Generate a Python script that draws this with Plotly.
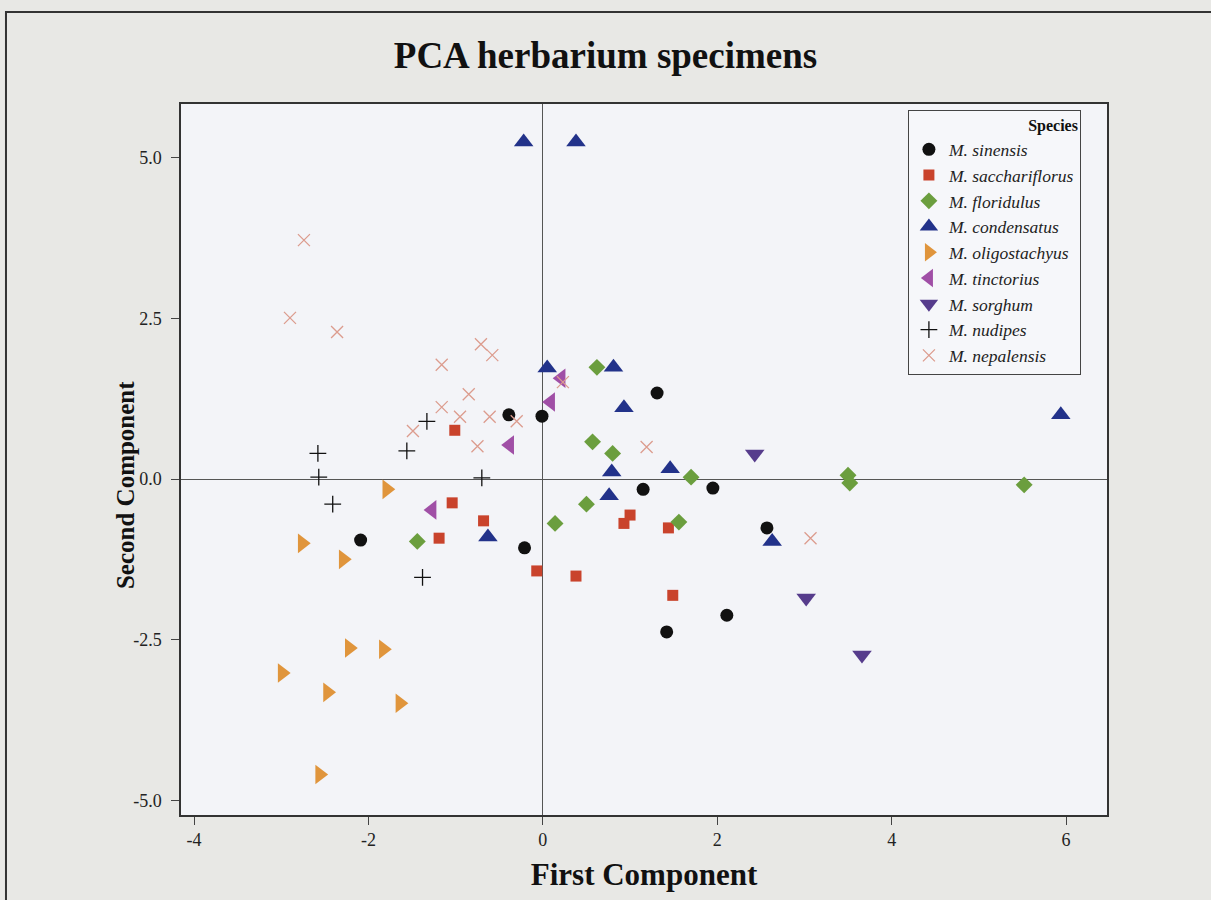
import plotly.graph_objects as go

# ---- data ----
species = ["M. sinensis", "M. sacchariflorus", "M. floridulus", "M. condensatus",
           "M. oligostachyus", "M. tinctorius", "M. sorghum", "M. nudipes", "M. nepalensis"]

sinensis_x = [-0.39, -0.01, 1.31, 1.15, 1.95, 2.57, -0.21, -2.09, 2.11, 1.42]
sinensis_y = [1.00, 0.98, 1.34, -0.16, -0.14, -0.76, -1.07, -0.95, -2.12, -2.38]

sacchariflorus_x = [-1.01, -1.04, -0.68, -1.19, -0.07, 0.38, 1.00, 0.93, 1.44, 1.49]
sacchariflorus_y = [0.76, -0.37, -0.65, -0.92, -1.43, -1.51, -0.56, -0.69, -0.76, -1.81]

floridulus_x = [0.62, 0.57, 0.80, 1.70, 0.50, 0.14, 1.56, 3.50, 3.52, 5.52, -1.44]
floridulus_y = [1.74, 0.58, 0.40, 0.03, -0.39, -0.69, -0.67, 0.06, -0.06, -0.09, -0.97]

condensatus_x = [-0.22, 0.38, 0.05, 0.81, 0.93, 0.79, 1.46, 0.76, -0.63, 2.63, 5.94]
condensatus_y = [5.25, 5.25, 1.73, 1.74, 1.11, 0.11, 0.16, -0.26, -0.90, -0.97, 1.00]

oligostachyus_x = [-1.79, -2.76, -2.29, -2.22, -1.83, -2.99, -2.47, -1.64, -2.56]
oligostachyus_y = [-0.16, -1.00, -1.25, -2.63, -2.65, -3.02, -3.32, -3.49, -4.60]

tinctorius_x = [0.21, 0.09, -0.38, -1.27]
tinctorius_y = [1.57, 1.20, 0.53, -0.48]

sorghum_x = [2.43, 3.02, 3.66]
sorghum_y = [0.39, -1.85, -2.74]

nudipes_x = [-1.33, -2.58, -1.56, -2.57, -0.70, -2.41, -1.38]
nudipes_y = [0.90, 0.40, 0.44, 0.03, 0.02, -0.39, -1.53]

nepalensis_x = [-2.74, -2.90, -2.36, -0.71, -0.58, -1.16, -0.85, -1.16, -0.95, -0.61,
                -0.30, -1.49, -0.75, 0.23, 1.19, 3.07]
nepalensis_y = [3.72, 2.51, 2.29, 2.10, 1.93, 1.78, 1.32, 1.12, 0.97, 0.97,
                0.90, 0.75, 0.51, 1.51, 0.50, -0.92]

x_tickvals = [-4, -2, 0, 2, 4, 6]
x_ticktext = ["-4", "-2", "0", "2", "4", "6"]
y_tickvals = [-5.0, -2.5, 0.0, 2.5, 5.0]
y_ticktext = ["-5.0", "-2.5", "0.0", "2.5", "5.0"]

# ---- styles ----
series = [
    (sinensis_x, sinensis_y, dict(symbol="circle", size=13, color="#111111")),
    (sacchariflorus_x, sacchariflorus_y, dict(symbol="square", size=11, color="#c9432c")),
    (floridulus_x, floridulus_y, dict(symbol="diamond", size=13, color="#6b9e3e")),
    (condensatus_x, condensatus_y, dict(symbol="triangle-up", size=17, color="#22328a")),
    (oligostachyus_x, oligostachyus_y, dict(symbol="triangle-right", size=17, color="#e0953c")),
    (tinctorius_x, tinctorius_y, dict(symbol="triangle-left", size=17, color="#a04fa6")),
    (sorghum_x, sorghum_y, dict(symbol="triangle-down", size=17, color="#563c8c")),
    (nudipes_x, nudipes_y, dict(symbol="cross-thin", size=12, color="#111111",
                                line=dict(color="#111111", width=1.3))),
    (nepalensis_x, nepalensis_y, dict(symbol="x-thin", size=12, color="#dc9c8e",
                                      line=dict(color="#dc9c8e", width=1.3))),
]

fig = go.Figure()
for name, (xs, ys, mk) in zip(species, series):
    fig.add_trace(go.Scatter(x=xs, y=ys, mode="markers", name=name, marker=mk))

serif = "Liberation Serif, Times New Roman, serif"

fig.update_layout(
    width=1211, height=900,
    margin=dict(l=181, r=104, t=104, b=85),
    paper_bgcolor="#e8e8e5",
    plot_bgcolor="#f3f4f8",
    font=dict(family=serif, color="#1a1a1a"),
    title=dict(text="<b>PCA herbarium specimens</b>", x=0.5, xanchor="center",
               y=1 - 55 / 900, yanchor="middle",
               font=dict(family=serif, size=37, color="#111111")),
    showlegend=True,
    legend=dict(
        x=0.785, y=0.992, xanchor="left", yanchor="top",
        bgcolor="#f6f7fa", bordercolor="#444444", borderwidth=1,
        font=dict(family=serif, size=17.5, style="italic", color="#222222"),
        title=dict(text="<b>Species</b>", side="top right",
                   font=dict(family=serif, size=16, style="normal", color="#111111")),
    ),
    shapes=[dict(type="rect", xref="paper", yref="paper",
                 x0=-0.189, x1=1.2, y0=-0.3, y1=1.1294,
                 line=dict(color="#333333", width=2), fillcolor="rgba(0,0,0,0)",
                 layer="below")],
    annotations=[dict(text="<b>Second Component</b>", xref="paper", yref="paper",
                      x=-0.0605, y=0.464, xanchor="center", yanchor="middle",
                      textangle=-90, showarrow=False,
                      font=dict(family=serif, size=25, color="#111111"))],
)

fig.update_xaxes(
    range=[-4.15, 6.47], tickvals=x_tickvals, ticktext=x_ticktext,
    showgrid=False, zeroline=True, zerolinecolor="#555555", zerolinewidth=1,
    showline=True, mirror=True, linecolor="#333333", linewidth=1.5,
    ticks="outside", ticklen=8, tickcolor="#444444",
    tickfont=dict(family=serif, size=18, color="#222222"),
    title=dict(text="<b>First Component</b>", standoff=14,
               font=dict(family=serif, size=31, color="#111111")),
)
fig.update_yaxes(
    range=[-5.23, 5.84], tickvals=y_tickvals, ticktext=y_ticktext,
    showgrid=False, zeroline=True, zerolinecolor="#555555", zerolinewidth=1,
    showline=True, mirror=True, linecolor="#333333", linewidth=1.5,
    ticks="outside", ticklen=8, tickcolor="#444444", ticklabelstandoff=6,
    tickfont=dict(family=serif, size=18, color="#222222"),
)

fig.write_html("out.html")
